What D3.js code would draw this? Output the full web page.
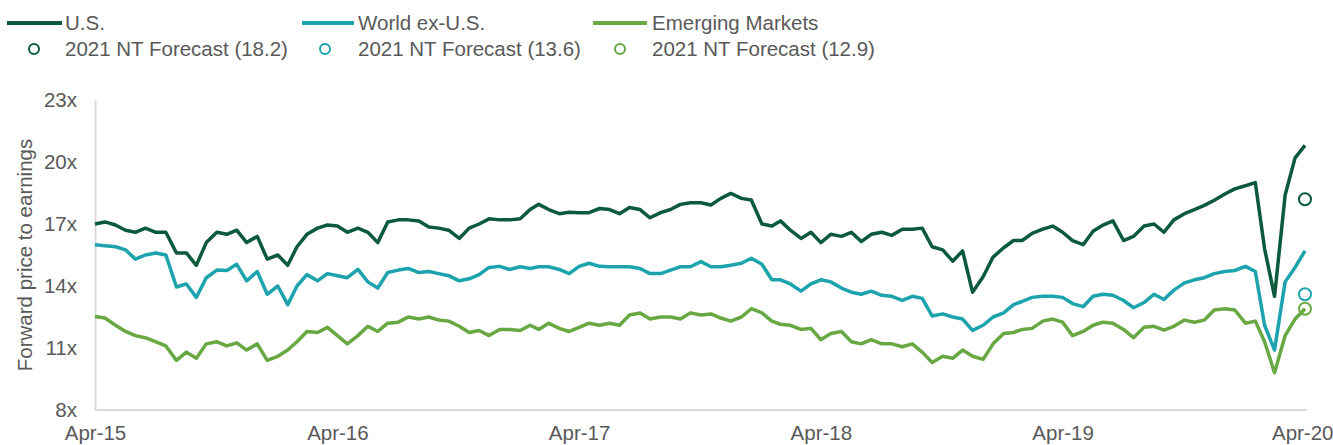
<!DOCTYPE html>
<html>
<head>
<meta charset="utf-8">
<script src="https://cdn.jsdelivr.net/npm/d3@7"></script>
<style>
  body { margin: 0; background: #fff; }
  svg { display: block; font-family: "Liberation Sans", Arial, sans-serif; }
  .axis text { fill: #595959; font-size: 20.5px; }
  .axis path { stroke: #d9d9d9; stroke-width: 2; }
  .legend text { fill: #595959; font-size: 20.5px; }
</style>
</head>
<body>
<div class="chart"></div>
<script>
const width = 1333;
const height = 445;

// semi-monthly observations: 30 Apr 2015, then the 15th and month end until Apr 2020
const startDate = new Date(2015, 3, 30);
const dates = [startDate];
d3.timeMonth.range(new Date(2015, 4, 1), new Date(2020, 4, 1)).forEach(m => {
    dates.push(new Date(m.getFullYear(), m.getMonth(), 15));
    dates.push(new Date(m.getFullYear(), m.getMonth() + 1, 0));
});

const usValues = [
    17.0, 17.1, 16.95, 16.7, 16.6, 16.8, 16.6, 16.6, 15.6, 15.6,
    15.0, 16.1, 16.6, 16.5, 16.7, 16.1, 16.4, 15.3, 15.5, 15.0,
    15.9, 16.5, 16.8, 16.95, 16.9, 16.6, 16.8, 16.6, 16.1, 17.1,
    17.2, 17.2, 17.15, 16.85, 16.8, 16.7, 16.3, 16.8, 17.0, 17.25,
    17.2, 17.2, 17.25, 17.7, 17.95, 17.7, 17.5, 17.57, 17.55, 17.55,
    17.75, 17.7, 17.5, 17.8, 17.7, 17.3, 17.55, 17.7, 17.95, 18.03,
    18.03, 17.92, 18.24, 18.48, 18.24, 18.16, 17.0, 16.9, 17.15, 16.7,
    16.3, 16.6, 16.1, 16.5, 16.4, 16.6, 16.15, 16.5, 16.6, 16.45,
    16.75, 16.75, 16.8, 15.9, 15.75, 15.2, 15.7, 13.7, 14.45, 15.4,
    15.85, 16.2, 16.2, 16.55, 16.75, 16.9, 16.6, 16.2, 16.0, 16.65,
    16.95, 17.15, 16.2, 16.4, 16.9, 17.0, 16.6, 17.2, 17.5, 17.7,
    17.9, 18.15, 18.45, 18.7, 18.85, 19.0, 15.8, 13.5, 18.4, 20.2,
    20.8
];
const worldValues = [
    16.0, 15.95, 15.9, 15.75, 15.3, 15.5, 15.6, 15.5, 13.95, 14.1,
    13.45, 14.4, 14.77, 14.75, 15.05, 14.25, 14.7, 13.6, 14.0, 13.1,
    14.0, 14.55, 14.25, 14.6, 14.5, 14.4, 14.8, 14.2, 13.9, 14.65,
    14.77, 14.85, 14.65, 14.7, 14.6, 14.5, 14.25, 14.35, 14.55, 14.9,
    14.95, 14.8, 14.93, 14.85, 14.93, 14.93, 14.8, 14.6, 14.95, 15.1,
    14.95, 14.93, 14.93, 14.93, 14.85, 14.6, 14.6, 14.77, 14.93, 14.93,
    15.18, 14.93, 14.93, 15.0, 15.1, 15.34, 15.05, 14.3, 14.3, 14.1,
    13.75, 14.1, 14.3, 14.2, 13.9, 13.7, 13.6, 13.75, 13.55, 13.5,
    13.3, 13.5, 13.4, 12.55, 12.65, 12.5, 12.4, 11.85, 12.1, 12.5,
    12.7, 13.1, 13.25, 13.45, 13.5, 13.5, 13.45, 13.15, 13.0, 13.5,
    13.6, 13.55, 13.3, 12.95, 13.2, 13.6, 13.35, 13.8, 14.15, 14.3,
    14.4, 14.6, 14.7, 14.75, 14.95, 14.7, 12.1, 10.9, 14.2, 14.9,
    15.7
];
const emValues = [
    12.52, 12.45, 12.1, 11.8, 11.6, 11.5, 11.3, 11.1, 10.4, 10.8,
    10.5, 11.2, 11.3, 11.1, 11.25, 10.9, 11.2, 10.4, 10.6, 10.9,
    11.3, 11.8, 11.75, 12.0, 11.6, 11.2, 11.6, 12.05, 11.8, 12.2,
    12.25, 12.5, 12.4, 12.5, 12.35, 12.3, 12.05, 11.75, 11.85, 11.6,
    11.9, 11.9, 11.85, 12.1, 11.9, 12.2, 11.95, 11.8, 12.0, 12.2,
    12.1, 12.2, 12.1, 12.6, 12.69, 12.4, 12.5, 12.5, 12.4, 12.7,
    12.6, 12.65, 12.45, 12.3, 12.5, 12.9, 12.7, 12.3, 12.15, 12.1,
    11.9, 11.95, 11.4, 11.7, 11.8, 11.3, 11.2, 11.4, 11.2, 11.2,
    11.06, 11.2, 10.8, 10.3, 10.6, 10.5, 10.9, 10.6, 10.45, 11.2,
    11.7, 11.75, 11.9, 11.95, 12.3, 12.4, 12.25, 11.6, 11.8, 12.1,
    12.25, 12.2, 11.9, 11.5, 12.0, 12.05, 11.87, 12.05, 12.35, 12.25,
    12.35, 12.84, 12.9, 12.84, 12.2, 12.3, 11.3, 9.8, 11.6, 12.4,
    12.9
];

const seriesNames = ['U.S.', 'World ex-U.S.', 'Emerging Markets'];
const seriesColors = ['#0b5a3c', '#1ca3ae', '#67a843'];
const seriesValues = [usValues, worldValues, emValues];
const forecasts = [18.2, 13.6, 12.9];
const yTicks = [8, 11, 14, 17, 20, 23];

const svg = d3.select('.chart').append('svg')
    .attr('width', width)
    .attr('height', height);

const x = d3.scaleTime()
    .domain([startDate, dates[dates.length - 1]])
    .range([95, 1305]);
const y = d3.scaleLinear()
    .domain([8, 23])
    .range([410, 100]);

/* axes */
svg.append('g')
    .attr('class', 'axis')
    .attr('transform', 'translate(95,0)')
    .call(d3.axisLeft(y).tickValues(yTicks).tickSize(0).tickPadding(18).tickFormat(d => d + 'x'));

const xAxis = svg.append('g')
    .attr('class', 'axis')
    .attr('transform', 'translate(0,410)')
    .call(d3.axisBottom(x)
        .tickValues(dates.filter(d => d.getMonth() === 3 && d.getDate() === 30))
        .tickSize(0).tickPadding(15)
        .tickFormat(d3.timeFormat('%b-%y')));
xAxis.select('path').attr('d', 'M95,0H1307');
// last label sits against the right edge, as in the original
xAxis.selectAll('.tick:last-of-type text').attr('text-anchor', 'end').attr('x', 28);

svg.append('text')
    .attr('transform', 'translate(25,255) rotate(-90)')
    .attr('text-anchor', 'middle')
    .attr('dy', '0.35em')
    .attr('fill', '#595959')
    .style('font-size', '20.5px')
    .text('Forward price to earnings');

/* lines */
const line = d3.line()
    .x((d, i) => x(dates[i]))
    .y(d => y(d));

seriesValues.forEach((vals, k) => {
    svg.append('path')
        .datum(vals)
        .attr('fill', 'none')
        .attr('stroke', seriesColors[k])
        .attr('stroke-width', 3.5)
        .attr('stroke-linejoin', 'round')
        .attr('d', line);
});

/* forecast markers */
svg.selectAll('.forecast')
    .data(forecasts)
    .enter()
    .append('circle')
    .attr('class', 'forecast')
    .attr('cx', x(dates[dates.length - 1]))
    .attr('cy', d => y(d))
    .attr('r', 6)
    .attr('fill', 'none')
    .attr('stroke', (d, i) => seriesColors[i])
    .attr('stroke-width', 2);

/* legend */
const legend = svg.append('g').attr('class', 'legend');
const legendX = [[7, 62, 65, 34], [302, 354, 358, 325], [593, 647, 652, 620]];
seriesNames.forEach((name, k) => {
    const p = legendX[k];
    legend.append('line')
        .attr('x1', p[0]).attr('x2', p[1])
        .attr('y1', 23).attr('y2', 23)
        .attr('stroke', seriesColors[k])
        .attr('stroke-width', 4);
    legend.append('text')
        .attr('x', p[2]).attr('y', 23)
        .attr('dy', '0.35em')
        .text(name);
    legend.append('circle')
        .attr('cx', p[3]).attr('cy', 49)
        .attr('r', 5)
        .attr('fill', 'none')
        .attr('stroke', seriesColors[k])
        .attr('stroke-width', 2);
    legend.append('text')
        .attr('x', p[2]).attr('y', 49)
        .attr('dy', '0.35em')
        .text('2021 NT Forecast (' + forecasts[k] + ')');
});
</script>
</body>
</html>
